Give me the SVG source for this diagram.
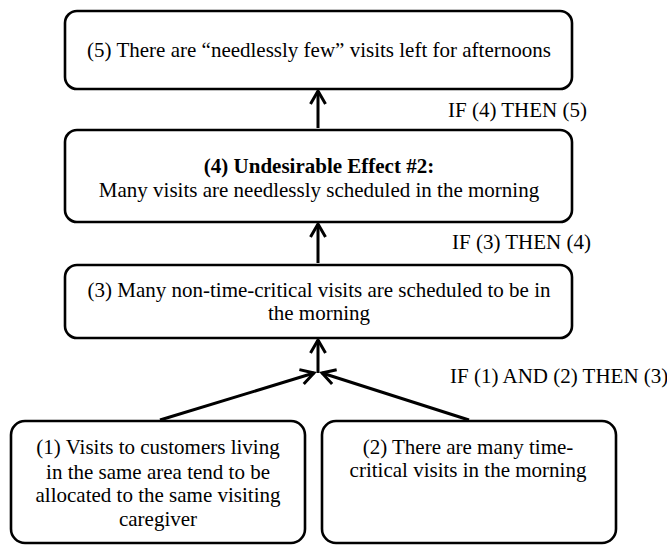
<svg xmlns="http://www.w3.org/2000/svg" width="667" height="545" viewBox="0 0 667 545">
<style>
.box{fill:#fff;stroke:#000;stroke-width:2.6}
.t{font-family:"Liberation Serif","Times New Roman",serif;font-size:21px;fill:#000;text-anchor:middle}
.b{font-weight:bold}
.lbl{font-family:"Liberation Serif","Times New Roman",serif;font-size:21px;fill:#000}
.c{fill:none;stroke:#000;stroke-width:3}
</style>
<defs>
<marker id="ah" markerUnits="userSpaceOnUse" markerWidth="20" markerHeight="20" viewBox="0 0 20 20" refX="15" refY="10" orient="auto">
<path d="M2,2.5 L15,10 L2,17.5" fill="none" stroke="#000" stroke-width="3"/>
</marker>
</defs>
<rect width="667" height="545" fill="#fff"/>
<g id="n5">
<rect class="box" x="65" y="11" width="507" height="78" rx="12"/>
<text class="t" x="319" y="57">(5) There are “needlessly few” visits left for afternoons</text>
</g>
<g id="n4">
<rect class="box" x="65" y="130" width="507" height="92" rx="12"/>
<text class="t b" x="319" y="173">(4) Undesirable Effect #2:</text>
<text class="t" x="319" y="197">Many visits are needlessly scheduled in the morning</text>
</g>
<g id="n3">
<rect class="box" x="65" y="265" width="507" height="73" rx="12"/>
<text class="t" x="319" y="297">(3) Many non-time-critical visits are scheduled to be in</text>
<text class="t" x="319" y="320">the morning</text>
</g>
<g id="n1">
<rect class="box" x="11" y="421" width="294" height="122" rx="14"/>
<text class="t" x="158" y="454">(1) Visits to customers living</text>
<text class="t" x="158" y="479">in the same area tend to be</text>
<text class="t" x="158" y="502">allocated to the same visiting</text>
<text class="t" x="158" y="526">caregiver</text>
</g>
<g id="n2">
<rect class="box" x="322" y="421" width="294" height="122" rx="14"/>
<text class="t" x="468" y="454">(2) There are many time-</text>
<text class="t" x="468" y="477">critical visits in the morning</text>
</g>
<g id="connectors">
<line class="c" x1="318" y1="128" x2="318" y2="91" marker-end="url(#ah)"/>
<line class="c" x1="318" y1="263" x2="318" y2="224" marker-end="url(#ah)"/>
<line class="c" x1="318" y1="373" x2="318" y2="340" marker-end="url(#ah)"/>
<line class="c" x1="160" y1="420" x2="314" y2="373" marker-end="url(#ah)"/>
<line class="c" x1="469" y1="420" x2="322" y2="373" marker-end="url(#ah)"/>
<text class="lbl" x="448" y="117">IF (4) THEN (5)</text>
<text class="lbl" x="452" y="249">IF (3) THEN (4)</text>
<text class="lbl" x="450" y="383">IF (1) AND (2) THEN (3)</text>
</g>
</svg>
